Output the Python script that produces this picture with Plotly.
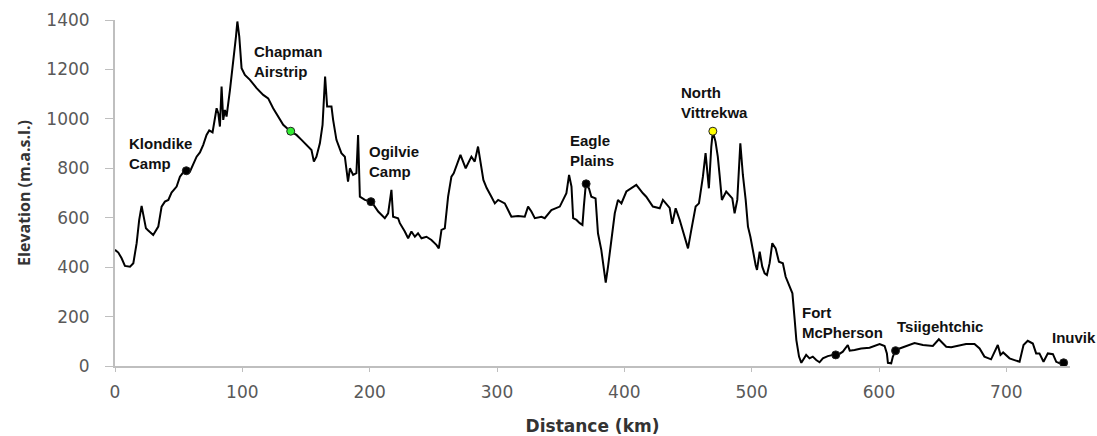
import plotly.graph_objects as go

# Elevation profile (distance km, elevation m.a.s.l.)
distance_km = [0, 2.6, 5.2, 7.8, 11.8, 14.4, 17, 19, 20.9, 22.2, 24.3, 26.1, 30, 34, 36.6, 39.2, 41.9, 44.4, 48.4, 51,
               55, 58.9, 61.5, 64.1, 66.7, 69.3, 71.9, 74, 76.6, 78.5, 79.8, 81.1, 82.4, 83.7, 85, 86.3, 87.6, 90.3, 92.9, 95,
               96.1, 97.6, 99.4, 102, 106, 111.2, 116.4, 120.3, 124.2, 128.2, 132.1, 137.9, 142.5, 146.5, 150.4, 154.3, 156.2, 158.2, 160.9, 163,
               165, 166.6, 170, 171.3, 173.9, 177.8, 180.5, 183, 184.5, 187, 189.6, 190.9, 192.3, 196.2, 201.4, 204.1, 206.7, 211.9, 214.5, 217.1,
               218.4, 222.3, 223.7, 227.6, 230.2, 232.8, 235.5, 238, 240.7, 244.6, 248.5, 252.4, 254.3, 256.4, 259, 261.6, 264.2, 266, 271.3, 275.4,
               278, 279.9, 282.5, 285.1, 289.3, 291.9, 295.6, 298.3, 300.9, 306.1, 308.7, 311.3, 316.6, 321.8, 324.4, 327, 329.7, 334.9, 337.5, 342.7,
               349.3, 351.9, 354.5, 356.6, 358.5, 359.8, 362.4, 365, 367.1, 368.2, 369.7, 372.2, 374.1, 377.4, 379.3, 381.9, 383.7, 385.4, 387.2, 389.8,
               392.5, 395, 397.7, 401.6, 405.5, 409.4, 414.6, 417.2, 422.4, 427.8, 430.3, 435.6, 437.6, 440.3, 443.5, 447.4, 450, 452.6, 456, 458.6,
               460.4, 461.7, 463.8, 464.8, 466.4, 468.3, 469.5, 471.6, 473.4, 474.8, 476.6, 480, 484.8, 486.6, 488.7, 491.1, 493.1, 495.3, 497.1, 499,
               501, 503.1, 504.2, 506.3, 508.3, 510.2, 512, 514.1, 516.2, 518.8, 521.4, 524.5, 526.7, 529.3, 532, 533.8, 535.1, 537.2, 539, 542.8,
               545.4, 548, 550.7, 553.3, 555.9, 559.8, 563.8, 567.7, 571.6, 575.5, 577, 580.8, 586, 592.6, 600.5, 604.4, 606.2, 607, 609.6, 610.9,
               613, 616.2, 621.4, 627.9, 634.5, 642.3, 647, 652.8, 656.7, 660.6, 668.4, 675, 679, 682.8, 688, 693.3, 695.4, 697.5, 699.8, 702.5,
               706.4, 710.4, 713.5, 716.8, 720.8, 723.4, 726, 729.2, 732.6, 736.6, 739.2, 741.8, 745.4]
elevation_m = [470, 459, 436, 405, 402, 416, 497, 591, 648, 618, 557, 548, 530, 564, 645, 665, 672, 702, 726, 766,
               793, 787, 820, 847, 864, 895, 935, 953, 945, 996, 1043, 1023, 969, 1131, 996, 1036, 1009, 1117, 1225, 1333,
               1394, 1333, 1205, 1178, 1158, 1124, 1097, 1083, 1043, 1009, 976, 949, 935, 915, 895, 874, 827, 847, 901, 976,
               1171, 1050, 1050, 996, 915, 861, 847, 746, 800, 773, 780, 935, 685, 672, 665, 645, 625, 598, 618, 713,
               604, 598, 578, 544, 517, 544, 523, 537, 517, 523, 510, 490, 476, 551, 557, 685, 766, 780, 854, 800,
               827, 847, 827, 888, 753, 720, 685, 658, 672, 658, 631, 604, 607, 604, 645, 625, 598, 604, 598, 631,
               645, 672, 699, 773, 726, 598, 591, 578, 571, 645, 733, 719, 685, 678, 537, 470, 402, 337, 402, 510,
               618, 672, 658, 706, 719, 733, 699, 685, 645, 638, 672, 640, 575, 638, 591, 523, 476, 551, 645, 658,
               713, 766, 861, 807, 719, 888, 949, 908, 847, 773, 672, 706, 678, 618, 672, 901, 773, 672, 564, 523,
               463, 409, 389, 463, 402, 375, 368, 416, 497, 476, 422, 416, 361, 328, 294, 186, 105, 38, 13, 45,
               31, 38, 24, 15, 31, 40, 45, 45, 58, 85, 62, 65, 71, 74, 89, 81, 51, 13, 11, 38,
               62, 71, 82, 93, 85, 81, 108, 78, 76, 81, 89, 89, 71, 38, 27, 85, 45, 55, 45, 31,
               24, 17, 85, 102, 91, 51, 51, 17, 51, 48, 17, 11, 13]

# Named locations
place_names = ["Klondike<br>Camp", "Chapman<br>Airstrip", "Ogilvie<br>Camp", "Eagle<br>Plains",
               "North<br>Vittrekwa", "Fort<br>McPherson", "Tsiigehtchic", "Inuvik"]
place_km = [56, 138, 201, 370, 469.5, 566, 613, 745]
place_elev = [790, 950, 665, 737, 950, 45, 62, 13]
place_colors = ["black", "#33ee33", "black", "black", "#ffff00", "black", "black", "black"]

# label anchor positions (layout, in data units)
label_x = [9.4, 107.5, 197.8, 355.6, 442.7, 537.7, 612.2, 733.9]
label_y = [858, 1233, 826, 870, 1065, 178, 158, 117]

x_ticks = [0, 100, 200, 300, 400, 500, 600, 700]
y_ticks = [0, 200, 400, 600, 800, 1000, 1200, 1400]

fig = go.Figure()
fig.add_trace(go.Scatter(x=distance_km, y=elevation_m, mode="lines",
                         line=dict(color="black", width=2), showlegend=False))
fig.add_trace(go.Scatter(x=place_km, y=place_elev, mode="markers",
                         marker=dict(size=8, color=place_colors, line=dict(color="#222222", width=1)),
                         showlegend=False))

for name, lx, ly in zip(place_names, label_x, label_y):
    bold = "<b>" + name.replace("<br>", "</b><br><b>") + "</b>"
    fig.add_annotation(x=lx, y=ly, text=bold, showarrow=False, xanchor="left", yanchor="middle",
                       align="left", font=dict(family="Liberation Sans", size=15, color="#111111"))

fig.update_layout(
    width=1097, height=436,
    margin=dict(l=115, r=27, t=20, b=70),
    plot_bgcolor="white", paper_bgcolor="white",
    xaxis=dict(range=[0, 750], tickvals=x_ticks, showgrid=False, zeroline=False, automargin=False,
               showline=True, linecolor="#bfbfbf", linewidth=2,
               ticks="outside", ticklen=4, tickcolor="#bfbfbf", ticklabelstandoff=6,
               tickfont=dict(family="DejaVu Sans", size=17, color="#595959"),
               title=dict(text="<b>Distance (km)</b>", standoff=21,
                          font=dict(family="DejaVu Sans", size=17, color="#333333"))),
    yaxis=dict(range=[0, 1400], tickvals=y_ticks, showgrid=False, zeroline=False, automargin=False,
               showline=True, linecolor="#bfbfbf", linewidth=2,
               ticks="outside", ticklen=8, tickcolor="#bfbfbf", ticklabelstandoff=12,
               tickfont=dict(family="DejaVu Sans", size=17, color="#595959"),
               title=dict(text="<b>Elevation (m.a.s.l.)</b>", standoff=12,
                          font=dict(family="Open Sans", size=16, color="#333333"))),
)

fig.write_html("out.html", config={"displayModeBar": False},
               post_script="document.body.style.margin='0px';document.body.style.overflow='hidden';")
